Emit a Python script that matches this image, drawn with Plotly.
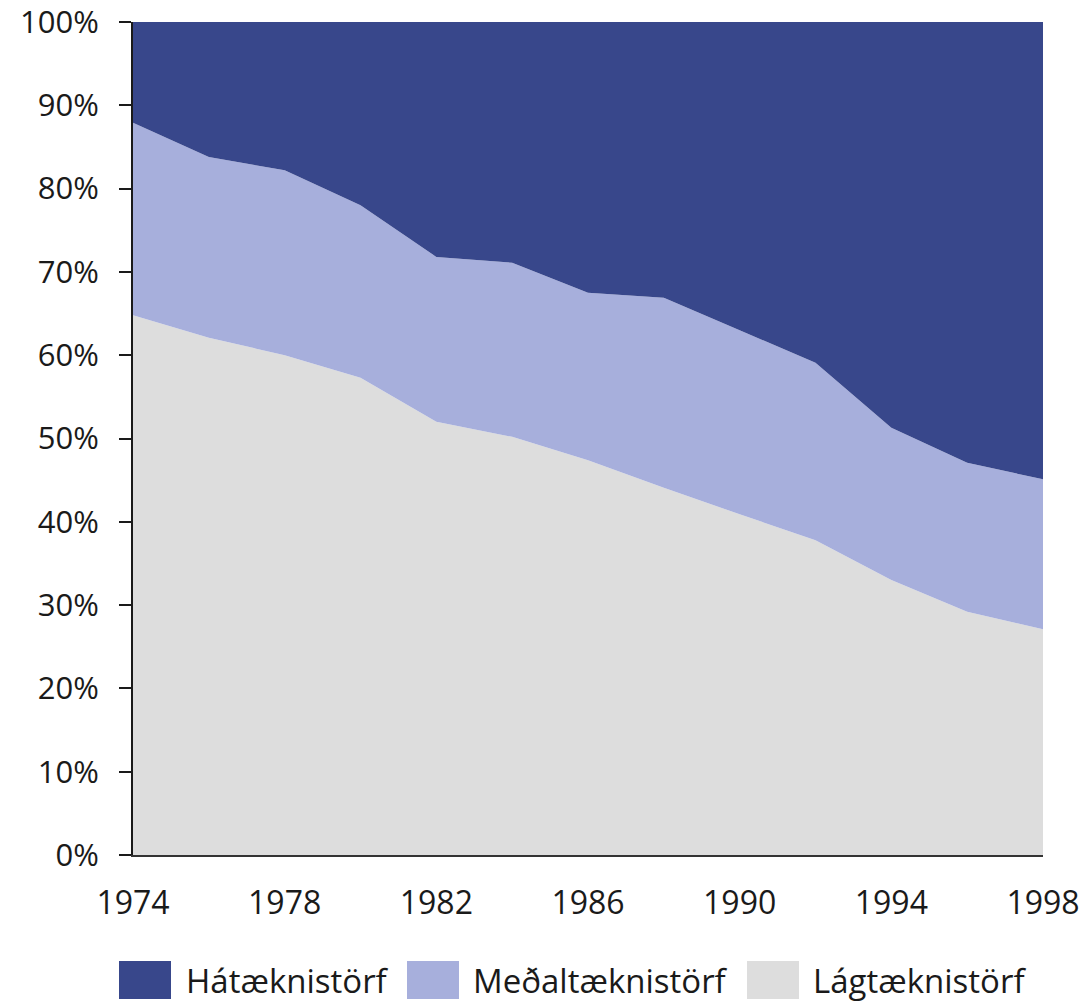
import plotly.graph_objects as go

years = [1974, 1976, 1978, 1980, 1982, 1984, 1986, 1988, 1990, 1992, 1994, 1996, 1998]
lag = [64.8, 62.1, 60.0, 57.3, 52.0, 50.2, 47.4, 44.1, 40.9, 37.8, 33.0, 29.2, 27.1]
medal = [23.1, 21.7, 22.2, 20.7, 19.8, 20.9, 20.1, 22.8, 22.1, 21.3, 18.3, 17.9, 18.0]
ha = [12.1, 16.2, 17.8, 22.0, 28.2, 28.9, 32.5, 33.1, 37.0, 40.9, 48.7, 52.9, 54.9]

names = ["Hátæknistörf", "Meðaltæknistörf", "Lágtæknistörf"]
colors = ["#38478b", "#a7afdc", "#dddddd"]
x_ticks = [1974, 1978, 1982, 1986, 1990, 1994, 1998]
y_ticks = [0, 10, 20, 30, 40, 50, 60, 70, 80, 90, 100]

FONT = "Open Sans"
W, H = 1087, 1002
ML, MR, MT, MB = 133, 44, 22, 147
PW, PH = W - ML - MR, H - MT - MB

fig = go.Figure()
for vals, name, col in [(lag, names[2], colors[2]), (medal, names[1], colors[1]), (ha, names[0], colors[0])]:
    fig.add_trace(go.Scatter(
        x=years, y=vals, name=name, stackgroup="one",
        mode="lines", line=dict(width=0, color=col), fillcolor=col,
        showlegend=False, hoverinfo="x+y+name"))

# manual legend (large square swatches like the reference)
legend_items = [(names[0], colors[0], 119, 184), (names[1], colors[1], 407, 471), (names[2], colors[2], 747, 811)]
shapes = []
annotations = []
for name, col, sx, tx in legend_items:
    x0 = (sx - ML) / PW
    x1 = (sx + 52 - ML) / PW
    y0 = (MT + PH - 999) / PH
    y1 = (MT + PH - 961) / PH
    shapes.append(dict(type="rect", xref="paper", yref="paper", x0=x0, x1=x1, y0=y0, y1=y1,
                       fillcolor=col, line=dict(width=0)))
    annotations.append(dict(xref="paper", yref="paper", x=(tx - ML) / PW, y=(MT + PH - 980) / PH,
                            xanchor="left", yanchor="middle", text=name, showarrow=False,
                            font=dict(family=FONT, size=33, color="#1a1a1a")))

fig.update_layout(
    width=W, height=H,
    margin=dict(l=ML, r=MR, t=MT, b=MB, pad=0, autoexpand=False),
    paper_bgcolor="white", plot_bgcolor="white",
    font=dict(family=FONT, color="#1a1a1a"),
    shapes=shapes, annotations=annotations,
    showlegend=False,
)
fig.update_xaxes(
    range=[1974, 1998], tickvals=x_ticks, ticktext=[str(v) for v in x_ticks],
    showgrid=False, zeroline=False, showline=True, linecolor="#333333", linewidth=2,
    ticks="", tickfont=dict(family=FONT, size=32, color="#1a1a1a"), ticklabelstandoff=19,
    automargin=False, ticklabeloverflow="allow",
)
fig.update_yaxes(
    range=[0, 100], tickvals=y_ticks, ticktext=[f"{v}%" for v in y_ticks],
    showgrid=False, zeroline=False, showline=True, linecolor="#1a1a1a", linewidth=2,
    ticks="outside", ticklen=12, tickwidth=2, tickcolor="#1a1a1a",
    tickfont=dict(family=FONT, size=31, color="#1a1a1a"), ticklabelstandoff=14,
    automargin=False, ticklabeloverflow="allow",
)

fig.write_html("out.html", config={"displayModeBar": False},
               post_script="document.body.style.margin='0';")
